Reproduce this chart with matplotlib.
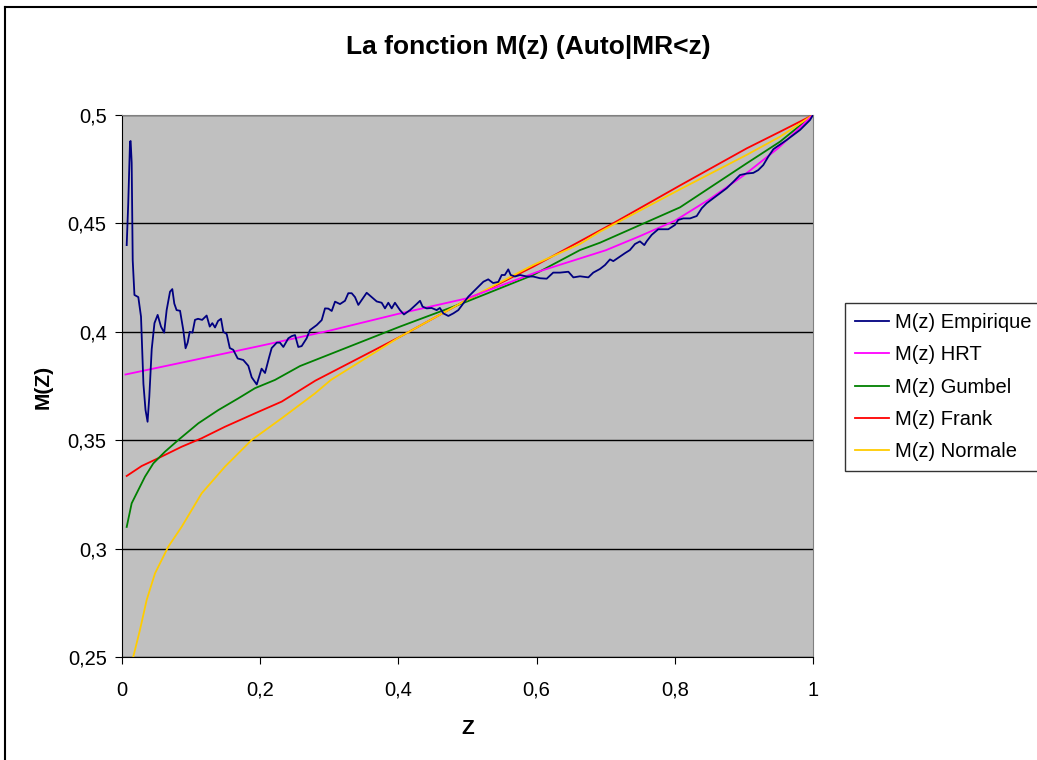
import matplotlib.pyplot as plt
from matplotlib.lines import Line2D
from matplotlib.ticker import FuncFormatter

plt.rcParams['font.family'] = ['Liberation Sans', 'DejaVu Sans']

z_emp = [0.0068, 0.009, 0.0116, 0.0125, 0.014, 0.0155, 0.018, 0.0236, 0.0275, 0.031,
         0.034, 0.037, 0.0395, 0.043, 0.047, 0.0516, 0.0564, 0.061, 0.0646, 0.0695,
         0.0728, 0.0757, 0.079, 0.084, 0.0887, 0.092, 0.095, 0.098, 0.102, 0.1056,
         0.110, 0.116, 0.1225, 0.127, 0.1307, 0.1346, 0.139, 0.1433, 0.1466, 0.1515,
         0.156, 0.161, 0.1674, 0.1755, 0.1828, 0.1877, 0.195, 0.202, 0.207, 0.2127,
         0.2166, 0.224, 0.2286, 0.2335, 0.2407, 0.2456, 0.2504, 0.2551, 0.26, 0.2672,
         0.272, 0.2818, 0.289, 0.2938, 0.2986, 0.3035, 0.3083, 0.3155, 0.3227, 0.3275,
         0.3324, 0.3372, 0.342, 0.3469, 0.3541, 0.3613, 0.3686, 0.3758, 0.3806, 0.3854,
         0.3903, 0.395, 0.4023, 0.408, 0.4168, 0.4264, 0.4313, 0.435, 0.441, 0.448,
         0.4554, 0.46, 0.465, 0.4723, 0.4795, 0.4867, 0.494, 0.5012, 0.5084, 0.5157,
         0.523, 0.530, 0.537, 0.5446, 0.5495, 0.554, 0.559, 0.5625, 0.5687, 0.576,
         0.5857, 0.595, 0.605, 0.6146, 0.624, 0.6339, 0.646, 0.6532, 0.6628, 0.6749,
         0.682, 0.6918, 0.699, 0.7062, 0.711, 0.7207, 0.728, 0.735, 0.7424, 0.7496,
         0.7559, 0.7592, 0.7665, 0.776, 0.7906, 0.8003, 0.805, 0.8123, 0.822, 0.8317,
         0.839, 0.8461, 0.8557, 0.8654, 0.875, 0.8847, 0.8943, 0.904, 0.9136, 0.9208,
         0.928, 0.9353, 0.9426, 0.9474, 0.9547, 0.962, 0.9715, 0.9812, 0.9884, 0.9957, 1.0]
m_emp = [0.440, 0.459, 0.4877, 0.488, 0.478, 0.433, 0.417, 0.416, 0.407, 0.376,
         0.364, 0.3585, 0.370, 0.392, 0.404, 0.4078, 0.4024, 0.3996, 0.410, 0.4185,
         0.4197, 0.413, 0.410, 0.4097, 0.4008, 0.3924, 0.395, 0.400, 0.3996, 0.4055,
         0.406, 0.4055, 0.4075, 0.4024, 0.404, 0.402, 0.405, 0.406, 0.400, 0.399,
         0.3925, 0.3917, 0.3877, 0.387, 0.3843, 0.379, 0.3757, 0.383, 0.381, 0.388,
         0.3925, 0.395, 0.395, 0.393, 0.397, 0.398, 0.3985, 0.393, 0.3934, 0.397,
         0.4008, 0.4031, 0.4054, 0.4108, 0.4107, 0.4096, 0.4139, 0.4128, 0.4143, 0.4178,
         0.4178, 0.416, 0.4124, 0.4147, 0.418, 0.416, 0.414, 0.4134, 0.4108, 0.4134,
         0.4108, 0.4134, 0.410, 0.408, 0.410, 0.4128, 0.4143, 0.4116, 0.4108, 0.411,
         0.410, 0.411, 0.4085, 0.4073, 0.4085, 0.410, 0.4131, 0.4162, 0.4185, 0.4208,
         0.4231, 0.4242, 0.4225, 0.423, 0.4262, 0.4262, 0.4288, 0.4262, 0.4255, 0.4262,
         0.4255, 0.4255, 0.4247, 0.4245, 0.4273, 0.4273, 0.4277, 0.4251, 0.4256, 0.4251,
         0.4273, 0.4290, 0.4308, 0.4334, 0.4326, 0.4347, 0.4363, 0.4377, 0.4405, 0.4417,
         0.4400, 0.4417, 0.4447, 0.4473, 0.4473, 0.4493, 0.4516, 0.4523, 0.4523, 0.4534,
         0.457, 0.4593, 0.4616, 0.4639, 0.4662, 0.4692, 0.4723, 0.4730, 0.4733, 0.4746,
         0.4769, 0.4808, 0.4842, 0.4853, 0.4869, 0.4885, 0.4908, 0.4931, 0.4954, 0.4977, 0.5]

# HRT model
z_hrt = [0.005, 0.1, 0.2, 0.3, 0.4, 0.5, 0.6, 0.7, 0.75, 0.8, 0.85, 0.9, 0.95, 1.0]
m_hrt = [0.3803, 0.3867, 0.3935, 0.4005, 0.4083, 0.4155, 0.4275, 0.4376, 0.4442,
         0.4512, 0.4611, 0.4722, 0.4848, 0.5]

# Gumbel model
z_gum = [0.0068, 0.014, 0.0212, 0.0333, 0.0453, 0.0622, 0.0815, 0.1105, 0.1394, 0.1683,
         0.1925, 0.2214, 0.2576, 0.4023, 0.4988, 0.595, 0.6628, 0.6918, 0.8075, 0.904,
         0.9523, 1.0]
m_gum = [0.310, 0.3209, 0.3255, 0.3332, 0.3393, 0.3447, 0.3501, 0.3578, 0.3639, 0.3693,
         0.374, 0.3778, 0.3842, 0.4024, 0.4139, 0.4262, 0.4377, 0.4411, 0.4574, 0.4777,
         0.4877, 0.5]

# Frank model
z_frk = [0.0068, 0.0285, 0.0525, 0.0864, 0.1153, 0.149, 0.1925, 0.2311, 0.28, 0.4023,
         0.4988, 0.595, 0.663, 0.7105, 0.8075, 0.904, 0.9523, 1.0]
m_frk = [0.3335, 0.3381, 0.3417, 0.347, 0.3509, 0.3562, 0.3624, 0.3678, 0.3775, 0.3977,
         0.4147, 0.4300, 0.4418, 0.45, 0.4675, 0.4846, 0.4923, 0.5]

# Normal model
z_nor = [0.0164, 0.026, 0.0357, 0.0478, 0.067, 0.0864, 0.1153, 0.149, 0.1877, 0.2311,
         0.2793, 0.3023, 0.4023, 0.4988, 0.595, 0.6628, 0.6918, 0.8075, 0.904, 0.9523, 1.0]
m_nor = [0.2502, 0.2625, 0.2763, 0.2886, 0.3009, 0.3101, 0.3255, 0.3378, 0.3501, 0.3601,
         0.3716, 0.3778, 0.3977, 0.4147, 0.4308, 0.4405, 0.4462, 0.4657, 0.4816, 0.49, 0.5]

fig = plt.figure(figsize=(10.37, 7.6), dpi=100)
ax = fig.add_axes([122 / 1037, 103 / 760, 691 / 1037, 542 / 760])
ax.set_facecolor('#C0C0C0')

ax.plot(z_emp, m_emp, color='#000080', lw=1.3, label='M(z) Empirique', zorder=6)
ax.plot(z_hrt, m_hrt, color='#FF00FF', lw=1.3, label='M(z) HRT', zorder=5)
ax.plot(z_gum, m_gum, color='#008000', lw=1.3, label='M(z) Gumbel', zorder=4)
ax.plot(z_frk, m_frk, color='#FF0000', lw=1.3, label='M(z) Frank', zorder=3)
ax.plot(z_nor, m_nor, color='#FFCC00', lw=1.3, label='M(z) Normale', zorder=4)

ax.set_xlim(0, 1)
ax.set_ylim(0.25, 0.5)
ax.set_xticks([0, 0.2, 0.4, 0.6, 0.8, 1.0])
ax.set_yticks([0.25, 0.3, 0.35, 0.4, 0.45, 0.5])
fmt = FuncFormatter(lambda v, p: '{:g}'.format(round(v, 2)).replace('.', ','))
ax.xaxis.set_major_formatter(fmt)
ax.yaxis.set_major_formatter(fmt)
ax.tick_params(labelsize=14.5, length=5, direction='out')
ax.tick_params(axis='x', pad=12)
ax.tick_params(axis='y', pad=6)
ax.yaxis.grid(True, color='black', lw=1)
ax.set_axisbelow(True)

for s in ['top', 'right']:
    ax.spines[s].set_color('#808080')
for s in ['left', 'bottom']:
    ax.spines[s].set_color('black')

fig.text(528 / 1037, 1 - 54 / 760, 'La fonction M(z) (Auto|MR<z)', ha='center', va='baseline',
         fontsize=19, fontweight='bold')
fig.text(468 / 1037, 1 - 728 / 760, 'Z', ha='center', va='center', fontsize=15, fontweight='bold')
fig.text(43 / 1037, 1 - 387 / 760, 'M(Z)', ha='center', va='center', rotation=90,
         fontsize=15, fontweight='bold')

leg = fig.legend(loc='upper left', bbox_to_anchor=(845 / 1037, 1 - 303 / 760), fontsize=14.5,
                 frameon=True, fancybox=False, handlelength=1.7, labelspacing=0.66,
                 borderpad=0.5, handletextpad=0.3, borderaxespad=0)
leg.get_frame().set_edgecolor('black')
leg.get_frame().set_linewidth(1)

# outer chart border (left and top edges visible)
fig.add_artist(Line2D([5 / 1037, 5 / 1037], [0, 1 - 7 / 760], color='black', lw=1.5,
                      transform=fig.transFigure))
fig.add_artist(Line2D([5 / 1037, 1], [1 - 7 / 760, 1 - 7 / 760], color='black', lw=1.5,
                      transform=fig.transFigure))

fig.savefig('out.png', dpi=100)
